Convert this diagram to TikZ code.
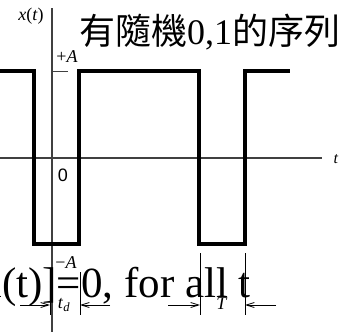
\documentclass[tikz,border=0pt]{standalone}
\usepackage{fontspec}
\setmainfont{Liberation Serif}
\setsansfont{Liberation Sans}
\newfontfamily\cjkfont{Noto Sans CJK TC}
\usepackage{tikz}
\usetikzlibrary{arrows.meta}

\begin{document}
\begin{tikzpicture}[
    x=1pt, y=-1pt,
    >={Straight Barb[length=8pt, width=5pt]},
    font=\fontsize{18}{21}\selectfont,
    axis/.style={draw=black!75, line width=1.2pt},
    signal/.style={draw=black, line width=3.5pt, line join=miter},
    tick/.style={draw=black!75, line width=1pt},
    dim/.style={draw=black, line width=0.8pt},
    dimarrow/.style={->, draw=black, line width=0.8pt},
    lbl/.style={inner sep=0pt}
]
\useasboundingbox (0,0) rectangle (350,332);

% Axes
\coordinate (origin) at (52,158);
\coordinate (ytop) at (52,8);
\coordinate (ybot) at (52,332);
\coordinate (tend) at (322,158);
\draw[axis] (0,158) -- (tend);
\draw[axis] (ytop) -- (ybot);
\node[lbl] (xlabel) at (31,16) {\textit{x}(\textit{t})};
\node[lbl] (tlabel) at (336,159) {\fontsize{16}{18}\selectfont\textit{t}};
\node[lbl] (zero) at (63,175) {\sffamily 0};

% Levels
\draw[tick] (52,71) -- (68,71);
\node[lbl] (plusA) at (67,57) {+\textit{A}};
\node[lbl] (minusA) at (66,263) {−\textit{A}};

% Signal
\coordinate (rise1) at (79,244);
\coordinate (fall2) at (199,71);
\coordinate (rise2) at (245,244);
\draw[signal] (0,71) -- (34,71) -- (34,244) -- (rise1) -- (79,71) -- (fall2)
    -- (199,244) -- (rise2) -- (245,71) -- (290,71);

% Texts
\node[lbl, anchor=base west] (seq) at (79,44)
    {\fontsize{36}{40}\selectfont{\cjkfont 有隨機}0,1{\cjkfont 的序列}};
\node[lbl, anchor=base east] (mean) at (251,297)
    {\fontsize{43}{48}\selectfont E[x(t)]=0, for all t};

% Dimensions
\draw[dim] (50,297) -- (50,315);
\draw[dim] (80,272) -- (80,315);
\draw[dimarrow] (20,305) -- (50,305);
\draw[dimarrow] (110,305) -- (80,305);
\node[lbl] (td) at (64,305) {\textit{t}\textsubscript{\textit{d}}};

\draw[dim] (200,253) -- (200,315);
\draw[dim] (245,253) -- (245,315);
\draw[dimarrow] (168,305) -- (200,305);
\draw[dimarrow] (276,305) -- (245,305);
\node[lbl] (T) at (222,304) {\textit{T}};
\end{tikzpicture}
\end{document}
